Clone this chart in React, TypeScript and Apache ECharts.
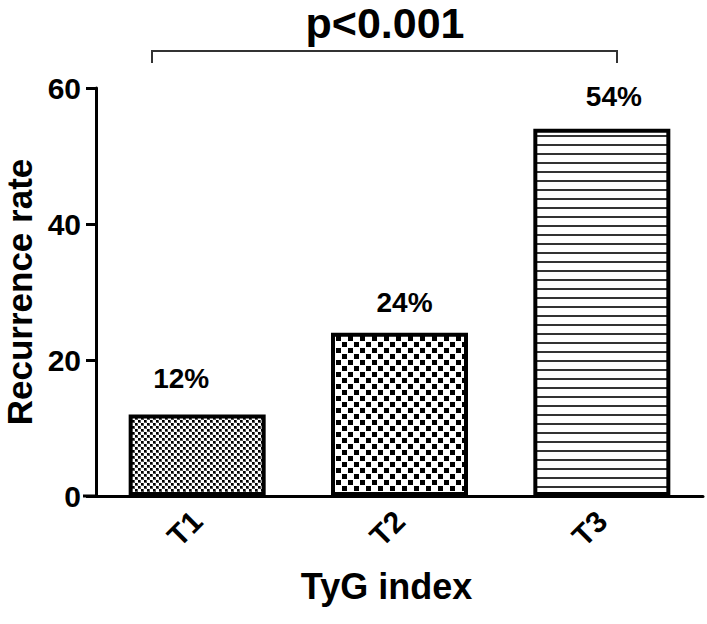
import React, { useEffect, useRef } from "react";
import * as echarts from "echarts";

const categories = ["T1", "T2", "T3"];
const values = [12, 24, 54];
const yTicks = [0, 20, 40, 60];
const pValueText = "p<0.001";
const xName = "TyG index";
const yName = "Recurrence rate";

const FONT = "'Liberation Sans', Arial, Helvetica, sans-serif";

function makePattern(kind: number) {
  const c = document.createElement("canvas");
  let w = 6, h = 6;
  if (kind === 1) { w = 12; h = 12; }
  if (kind === 2) { w = 9; h = 9; }
  c.width = w; c.height = h;
  const ctx = c.getContext("2d")!;
  ctx.fillStyle = "#ffffff";
  ctx.fillRect(0, 0, w, h);
  if (kind === 0) {
    ctx.fillStyle = "#000";
    ctx.fillRect(0, 0, 2, 2);
    ctx.fillRect(3, 3, 2, 2);
    ctx.fillStyle = "#555";
    ctx.fillRect(2, 0, 1, 2);
    ctx.fillRect(0, 2, 3, 1);
    ctx.fillRect(5, 3, 1, 2);
    ctx.fillRect(3, 5, 3, 1);
  } else if (kind === 1) {
    ctx.fillStyle = "#000";
    ctx.fillRect(0, 0, 5, 5);
    ctx.fillRect(6, 6, 5, 5);
  } else {
    ctx.fillStyle = "#333";
    ctx.fillRect(0, 0, w, 2);
  }
  return { image: c.toDataURL(), repeat: "repeat", imageWidth: w, imageHeight: h };
}

const labelOffsets = [[-16, -4], [5, 2], [12, 0]];

export default function App() {
  const ref = useRef<HTMLDivElement>(null);
  useEffect(() => {
    if (!ref.current) return;
    const chart = echarts.init(ref.current, null, { renderer: "svg" });
    const patterns = [makePattern(0), makePattern(1), makePattern(2)];
    chart.setOption({
      animation: false,
      backgroundColor: "#ffffff",
      grid: { left: 96, right: 4, top: 88, bottom: 128, containLabel: false, outerBoundsMode: "none" },
      xAxis: {
        type: "category",
        data: categories,
        name: xName,
        nameLocation: "middle",
        nameGap: 72,
        nameTextStyle: { fontFamily: FONT, fontWeight: "bold", fontSize: 36, color: "#000", padding: [0, 26, 0, 0] },
        axisLine: { lineStyle: { color: "#000", width: 3 } },
        axisTick: { alignWithLabel: true, length: 10, lineStyle: { color: "#000", width: 3 } },
        axisLabel: { rotate: 45, margin: 20, fontFamily: FONT, fontWeight: "bold", fontSize: 30, color: "#000" },
      },
      yAxis: {
        type: "value",
        min: 0,
        max: yTicks[yTicks.length - 1],
        interval: yTicks[1] - yTicks[0],
        name: yName,
        nameLocation: "middle",
        nameRotate: 90,
        nameGap: 52,
        nameTextStyle: { fontFamily: FONT, fontWeight: "bold", fontSize: 35, color: "#000" },
        splitLine: { show: false },
        axisLine: { show: true, lineStyle: { color: "#000", width: 3 } },
        axisTick: { show: true, length: 10, lineStyle: { color: "#000", width: 3 } },
        axisLabel: { margin: 15, fontFamily: FONT, fontWeight: "bold", fontSize: 30, color: "#000" },
      },
      series: [
        {
          type: "bar",
          barWidth: 137,
          data: values.map((v, i) => ({
            value: v,
            itemStyle: { color: patterns[i], borderColor: "#000", borderWidth: 4 },
            label: { offset: labelOffsets[i] },
          })),
          label: {
            show: true,
            position: "top",
            distance: 18,
            formatter: "{c}%",
            fontFamily: FONT,
            fontWeight: "bold",
            fontSize: 28,
            color: "#000",
          },
        },
      ],
      graphic: [
        { type: "line", shape: { x1: 83, y1: 496, x2: 97, y2: 496 }, style: { stroke: "#000", lineWidth: 3 } },
        {
          type: "polyline",
          shape: { points: [[152, 63], [152, 51], [617, 51], [617, 63]] },
          style: { stroke: "#333", lineWidth: 2, fill: null },
        },
        {
          type: "text",
          x: 385,
          y: 23,
          style: {
            text: pValueText,
            fontFamily: FONT,
            fontWeight: "bold",
            fontSize: 43,
            fill: "#000",
            textAlign: "center",
            textVerticalAlign: "middle",
          },
        },
      ],
    });
    return () => chart.dispose();
  }, []);
  return <div ref={ref} style={{ width: 707, height: 624, position: "absolute", left: 0, top: 0 }} />;
}
